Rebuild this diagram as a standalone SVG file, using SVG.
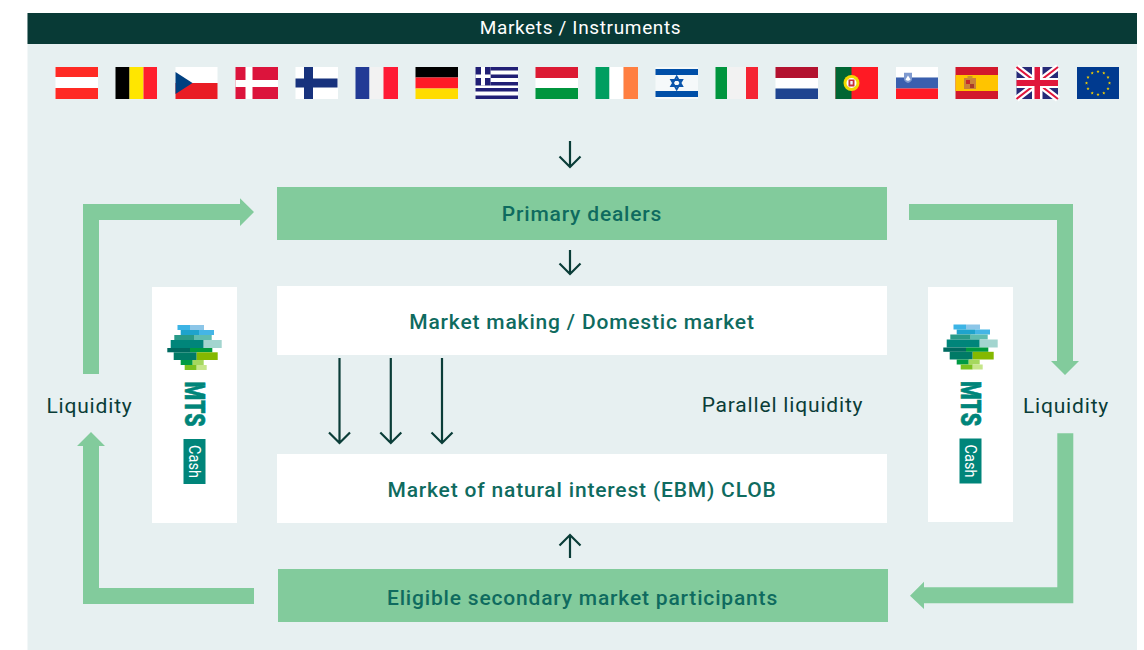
<svg xmlns="http://www.w3.org/2000/svg" xmlns:xlink="http://www.w3.org/1999/xlink" width="1144" height="650" viewBox="0 0 1144 650">
<style>
.t{font-family:"Roboto","Liberation Sans",sans-serif;font-weight:500;font-size:21px;text-anchor:middle;letter-spacing:.82px}
.g{fill:#0f6b5f}.d{fill:#0a3d38;font-weight:400}
.band{fill:#82cb9c}.box{fill:#fff}.big{fill:#82cb9c}
.thin{fill:none;stroke:#0a3d38;stroke-width:2.2}
</style>
<defs>
<g id="logo">
<rect x="177.500" y="325" width="12.500" height="5" fill="#3cb4e5"/><rect x="190" y="325" width="14" height="5" fill="#8cc6e8"/>
<rect x="180.700" y="330" width="18.300" height="5" fill="#1fa3cc"/><rect x="199" y="330" width="15" height="5" fill="#45b5e6"/>
<rect x="174.300" y="335" width="20.400" height="5" fill="#2a9a88"/><rect x="194.700" y="335" width="17" height="5" fill="#5fbcb0"/>
<rect x="170.700" y="340" width="33" height="8" fill="#00857a"/><rect x="203.700" y="340" width="18" height="8" fill="#a3d5cf"/>
<rect x="167.300" y="348" width="22.700" height="4.300" fill="#006a60"/><rect x="190" y="348" width="22.300" height="4.300" fill="#009a3d"/>
<rect x="173.700" y="352.300" width="23" height="7.700" fill="#007a66"/><rect x="196.700" y="352.300" width="21" height="7.700" fill="#85b800"/>
<rect x="180.700" y="360" width="12" height="5" fill="#009a44"/><rect x="192.700" y="360" width="11" height="5" fill="#a5d85e"/>
<rect x="184.700" y="365" width="12" height="5" fill="#7bc11e"/><rect x="196.700" y="365" width="10" height="5" fill="#c6e68a"/>
<text transform="translate(185 381.500) rotate(90)" font-family="Roboto,'Liberation Sans',sans-serif" font-weight="900" font-size="27" fill="#00857a" stroke="#00857a" stroke-width=".6" textLength="45" lengthAdjust="spacingAndGlyphs">MTS</text>
<rect x="183.500" y="439" width="22" height="45" fill="#00857a"/>
<text transform="translate(188.500 445) rotate(90)" font-family="Roboto,'Liberation Sans',sans-serif" font-weight="400" font-size="17" fill="#fff" textLength="33" lengthAdjust="spacingAndGlyphs">Cash</text>
</g>
<polygon id="st" points="0,-1.6 .5,-.5 1.6,-.5 .7,.2 1,1.4 0,.7 -1,1.4 -.7,.2 -1.6,-.5 -.5,-.5" fill="#f5d000"/>
</defs>

<rect id="panel" x="27.500" y="13" width="1109.500" height="637" fill="#e7f0f1"/>
<g id="header"><rect x="27.500" y="13" width="1109.500" height="31" fill="#083a36"/>
<text class="t" x="580.500" y="33.500" fill="#fff" style="font-size:19px;font-weight:400;letter-spacing:.65px">Markets / Instruments</text></g>

<g id="flags">
<g id="flag-at" transform="translate(55.500 67)"><rect width="42.500" height="32" fill="#fff"/><rect width="42.500" height="10" fill="#ff2a24"/><rect y="21" width="42.500" height="11" fill="#ff2a24"/></g>
<g id="flag-be" transform="translate(115.500 67)"><rect width="14" height="32" fill="#000"/><rect x="14" width="14" height="32" fill="#ffe600"/><rect x="28" width="13.500" height="32" fill="#ff1f2d"/></g>
<g id="flag-cz" transform="translate(175.500 67)"><rect width="42" height="16" fill="#fff"/><rect y="16" width="42" height="16" fill="#e91c24"/><polygon points="0,5 17,16 0,27" fill="#004080"/></g>
<g id="flag-dk" transform="translate(235.500 67)"><rect width="42.500" height="32" fill="#dc143c"/><rect x="10" width="7" height="32" fill="#fff"/><rect y="13" width="42.500" height="7" fill="#fff"/></g>
<g id="flag-fi" transform="translate(295.500 67)"><rect width="42.500" height="32" fill="#fff"/><rect x="8.500" width="9" height="32" fill="#17327d"/><rect y="11.500" width="42" height="9" fill="#17327d"/></g>
<g id="flag-fr" transform="translate(355.500 67)"><rect width="14" height="32" fill="#213a95"/><rect x="14" width="14" height="32" fill="#f2f2f2"/><rect x="28" width="14.500" height="32" fill="#ff1a35"/></g>
<g id="flag-de" transform="translate(415.500 67)"><rect width="42.500" height="10.500" fill="#000"/><rect y="10.500" width="42.500" height="11" fill="#ff1a26"/><rect y="21.500" width="42.500" height="10.500" fill="#ffdc00"/></g>
<g id="flag-gr" transform="translate(475.500 67)"><rect width="42.500" height="32" fill="#fff"/><g fill="#211f75"><rect x="15" width="27.500" height="3.500"/><rect x="15" y="7.500" width="27.500" height="3.500"/><rect x="15" y="15" width="27.500" height="3.500"/><rect y="21" width="42.500" height="3.500"/><rect y="28.500" width="42.500" height="3.500"/><rect width="15" height="18.500"/></g><rect x="5.500" width="4" height="18.500" fill="#fff"/><rect y="7.500" width="15" height="3.500" fill="#fff"/></g>
<g id="flag-hu" transform="translate(535.500 67)"><rect width="42.500" height="11" fill="#dc1a33"/><rect y="11" width="42.500" height="10" fill="#fff"/><rect y="21" width="42.500" height="11" fill="#00953e"/></g>
<g id="flag-ie" transform="translate(595.500 67)"><rect width="14" height="32" fill="#009e60"/><rect x="14" width="14" height="32" fill="#fff"/><rect x="28" width="14.500" height="32" fill="#ff7f41"/></g>
<g id="flag-il" transform="translate(655.500 67)"><rect width="42.500" height="32" fill="#f5f9fa"/><rect y="2" width="42.500" height="6" fill="#004fa8"/><rect y="24" width="42.500" height="6" fill="#004fa8"/><path d="M21.200 9.500l5.500 9.500h-11zM21.200 22.500l-5.500-9.500h11z" fill="none" stroke="#0a55ab" stroke-width="1.800"/></g>
<g id="flag-it" transform="translate(715.500 67)"><rect width="11.500" height="32" fill="#00953e"/><rect x="11.500" width="19" height="32" fill="#f2f2f2"/><rect x="30.500" width="12" height="32" fill="#f52433"/></g>
<g id="flag-nl" transform="translate(775.500 67)"><rect width="42.500" height="11" fill="#b3122f"/><rect y="11" width="42.500" height="10.500" fill="#fff"/><rect y="21.500" width="42.500" height="10.500" fill="#1f4490"/></g>
<g id="flag-pt" transform="translate(835.500 67)"><rect width="42.500" height="32" fill="#ff1a24"/><rect width="16" height="32" fill="#006633"/><circle cx="16" cy="16" r="8" fill="#f2d800"/><circle cx="16" cy="16" r="5" fill="#fff"/><rect x="13" y="12.500" width="6" height="7" fill="#c8303a"/><rect x="14.800" y="14" width="2.400" height="3.500" fill="#eef"/></g>
<g id="flag-si" transform="translate(896 67)"><rect width="42" height="10.500" fill="#fff"/><rect y="10.500" width="42" height="11" fill="#3a5fae"/><rect y="21.500" width="42" height="10.500" fill="#ff1a24"/><path d="M8 5.700h8v6q0 3-4 4.300q-4-1.300-4-4.300z" fill="#7f9ad0"/><path d="M9.500 12.500l2.500-4 2.500 4q-2.500 2.500-5 0z" fill="#fff"/></g>
<g id="flag-es" transform="translate(955.500 67)"><rect width="42.500" height="32" fill="#d2182c"/><rect y="8" width="42.500" height="16" fill="#ffc400"/><rect x="8.500" y="11" width="12" height="11" fill="#c9823a"/><rect x="10.500" y="13" width="4" height="4" fill="#c92a2a"/><rect x="14.500" y="17" width="4" height="4" fill="#a83a2a"/><rect x="12" y="9" width="5" height="2.500" fill="#c9962a"/></g>
<g id="flag-gb" transform="translate(1016.500 67)"><rect width="41.500" height="32" fill="#262a78"/><path d="M0 0L41.500 32M41.500 0L0 32" stroke="#fff" stroke-width="6.500"/><path d="M0 0L41.500 32M41.500 0L0 32" stroke="#e0173c" stroke-width="2"/><rect x="15.500" width="10.500" height="32" fill="#fff"/><rect y="11" width="41.500" height="10" fill="#fff"/><rect x="18" width="5.500" height="32" fill="#e0173c"/><rect y="13" width="41.500" height="6" fill="#e0173c"/></g>
<g id="flag-eu" transform="translate(1077 67)"><rect width="42" height="32" fill="#003a8f"/>
<use xlink:href="#st" href="#st" x="21" y="4.500"/><use href="#st" xlink:href="#st" x="26.800" y="6"/><use href="#st" xlink:href="#st" x="31" y="10.300"/><use href="#st" xlink:href="#st" x="32.500" y="16"/><use href="#st" xlink:href="#st" x="31" y="21.700"/><use href="#st" xlink:href="#st" x="26.800" y="26"/><use href="#st" xlink:href="#st" x="21" y="27.500"/><use href="#st" xlink:href="#st" x="15.200" y="26"/><use href="#st" xlink:href="#st" x="11" y="21.700"/><use href="#st" xlink:href="#st" x="9.500" y="16"/><use href="#st" xlink:href="#st" x="11" y="10.300"/><use href="#st" xlink:href="#st" x="15.200" y="6"/></g>
</g>

<g id="connectors">
<path class="big" d="M83 374V204H240V198.300L254 212L240 226V220H99V374Z"/>
<path class="big" d="M909 204H1073V361H1079L1065 375L1051 361H1057V220H909Z"/>
<path class="big" d="M1057.300 433.300H1073.300V603.300H924V609L910 595.700L924 581.700V587.300H1057.300Z"/>
<path class="big" d="M254 604H83V446H77L91 432L105 446H99V588H254Z"/>
<path class="thin" d="M570 141V167M559.500 156.500L570 167L580.500 156.500"/>
<path class="thin" d="M570 250V274M559.500 263.500L570 274L580.500 263.500"/>
<path class="thin" d="M339.500 358V443M329 432.500L339.500 443L350 432.500"/>
<path class="thin" d="M390.800 358V443M380.300 432.500L390.800 443L401.300 432.500"/>
<path class="thin" d="M442 358V443M431.500 432.500L442 443L452.500 432.500"/>
<path class="thin" d="M570 558V535M559.500 545.500L570 535L580.500 545.500"/>
</g>

<g id="primary"><rect class="band" x="277" y="187" width="610" height="53"/><text class="t g" x="582" y="220.500">Primary dealers</text></g>
<g id="market-making"><rect class="box" x="277" y="286" width="610" height="69"/><text class="t g" x="582" y="328.500">Market making / Domestic market</text></g>
<g id="natural"><rect class="box" x="277" y="454" width="610" height="69"/><text class="t g" x="582" y="496.500">Market of natural interest (EBM) CLOB</text></g>
<g id="eligible"><rect class="band" x="278" y="569" width="610" height="53"/><text class="t g" x="582.500" y="604.500">Eligible secondary market participants</text></g>
<g id="mts-left"><rect class="box" x="152" y="287" width="85" height="236"/><use href="#logo" xlink:href="#logo"/></g>
<g id="mts-right"><rect class="box" x="928" y="287" width="85" height="235"/><use href="#logo" xlink:href="#logo" transform="translate(776 -.5)"/></g>
<g id="label-parallel"><text class="t d" x="782.500" y="411.500">Parallel liquidity</text></g>
<g id="label-liquidity-left"><text class="t d" x="89.500" y="412.500">Liquidity</text></g>
<g id="label-liquidity-right"><text class="t d" x="1066" y="412.500">Liquidity</text></g>
</svg>
